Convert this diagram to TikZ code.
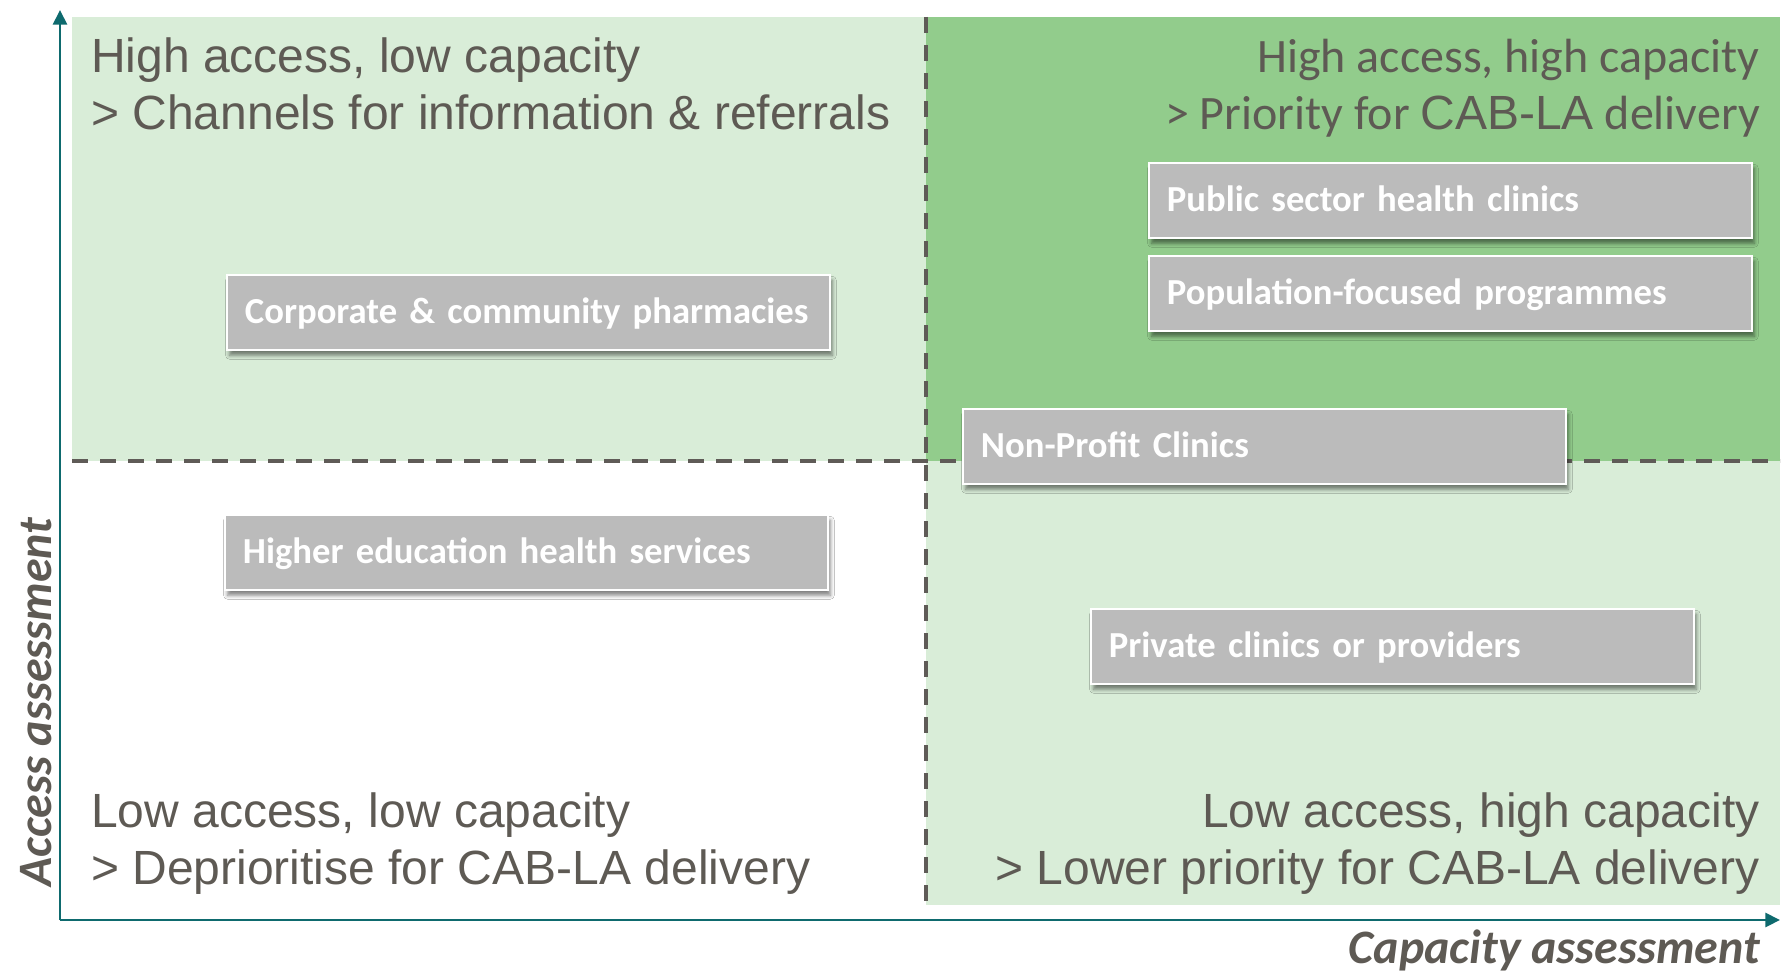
\documentclass[tikz,border=0pt]{standalone}
\usepackage{fontspec}
\setmainfont{Liberation Sans}
\newfontfamily\calfont{Carlito}
\usetikzlibrary{arrows.meta,shadows.blur}

\definecolor{paleGreen}{RGB}{217,237,216}
\definecolor{midGreen}{RGB}{146,204,140}
\definecolor{inkGray}{RGB}{94,90,84}
\definecolor{dashGray}{RGB}{95,91,87}
\definecolor{axisTeal}{RGB}{14,106,110}
\definecolor{chipGray}{RGB}{187,187,187}

\tikzset{
  quadtext/.style={inner sep=0pt, text=inkGray,
    font=\fontsize{36pt}{42pt}\selectfont},
  quadtextcal/.style={inner sep=0pt, text=inkGray,
    font=\calfont\fontsize{36pt}{42pt}\selectfont},
  chip/.style={draw=white, line width=1.4pt, fill=chipGray, text=white,
    font=\calfont\bfseries\fontsize{27.5pt}{33pt}\selectfont,
    text width=425pt, align=left, inner xsep=13.5pt, inner ysep=0pt,
    minimum height=56.25pt, text height=16.5pt, text depth=0pt,
    anchor=north west,
    blur shadow={shadow xshift=2pt, shadow yshift=-4pt,
      shadow blur radius=3pt, shadow opacity=50}},
  divider/.style={draw=dashGray, line width=3pt, dash pattern=on 12pt off 9pt},
  axisline/.style={draw=axisTeal, line width=2pt,
    -{Triangle[length=11pt,width=10.5pt]}},
  axislabel/.style={inner sep=0pt, text=inkGray,
    font=\calfont\bfseries\itshape\fontsize{36pt}{42pt}\selectfont}
}

\begin{document}
\begin{tikzpicture}[x=0.75pt,y=-0.75pt]
  % canvas
  \useasboundingbox (0,0) rectangle (1790,973);
  \fill[white] (0,0) rectangle (1790,973);

  % quadrant backgrounds
  \fill[paleGreen] (72,17) rectangle (926,461);
  \fill[midGreen]  (926,17) rectangle (1780,461);
  \fill[paleGreen] (926,461) rectangle (1780,905);

  % quadrant dividers
  \coordinate (divL) at (72,461);
  \coordinate (divR) at (1780,461);
  \coordinate (divT) at (926,17);
  \coordinate (divB) at (926,905);
  \draw[divider] (divL) -- (divR);
  \draw[divider] (divT) -- (divB);

  % axes
  \coordinate (origin) at (60,920);
  \coordinate (ytip) at (60,10);
  \coordinate (xtip) at (1780,920);
  \draw[axisline] (origin) -- (ytip);
  \draw[axisline] (origin) -- (xtip);

  % axis titles
  \node[axislabel, rotate=90, anchor=base] (ylab) at (51,702) {Access assessment};
  \node[axislabel, anchor=base east] (xlab) at (1760,963) {Capacity assessment};

  % quadrant headings
  \node[quadtext, anchor=base west] (hlcA) at (91,73) {High access, low capacity};
  \node[quadtext, anchor=base west] (hlcB) at (91,130) {> Channels for information \& referrals};

  \node[quadtextcal, anchor=base east] (hhcA) at (1760,73) {High access, high capacity};
  \node[quadtextcal, anchor=base east] (hhcB) at (1760,130) {> Priority for {\rmfamily CAB-LA} delivery};

  \node[quadtext, anchor=base west] (llcA) at (91,827) {Low access, low capacity};
  \node[quadtext, anchor=base west] (llcB) at (91,884) {> Deprioritise for CAB-LA delivery};

  \node[quadtext, anchor=base east] (lhcA) at (1760,827) {Low access, high capacity};
  \node[quadtext, anchor=base east] (lhcB) at (1760,884) {> Lower priority for CAB-LA delivery};

  % delivery channels
  \node[chip] (pharm)   at (226,274)  {Corporate \& community pharmacies};
  \node[chip] (public)  at (1148,162) {Public sector health clinics};
  \node[chip] (popprog) at (1148,255) {Population-focused programmes};
  \node[chip] (nonprof) at (962,408)  {Non-Profit Clinics};
  \node[chip] (higher)  at (224,514)  {Higher education health services};
  \node[chip] (private) at (1090,608) {Private clinics or providers};
\end{tikzpicture}
\end{document}
